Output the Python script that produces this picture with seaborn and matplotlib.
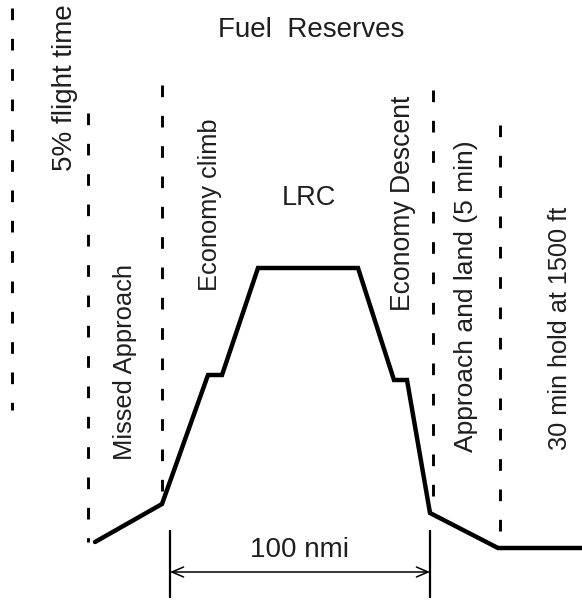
import pandas as pd
import matplotlib.pyplot as plt
import seaborn as sns

# Profile of the reserve flight (diagram pixel units, y downward)
profile_x = [95, 162, 208, 222, 258, 358, 394, 407, 430, 498, 582]
profile_y = [542, 504, 375, 375, 268, 268, 380, 380, 513, 548, 548]

# Phase boundaries (dashed)
boundary_x = [12, 88, 162, 433, 500]
boundary_top = [8, 113, 85, 90, 125]
boundary_bottom = [410, 542, 504, 512, 548]

# Phase labels (vertical)
phase_labels = ["5% flight time", "Missed Approach", "Economy climb",
                "Economy Descent", "Approach and land (5 min)",
                "30 min hold at 1500 ft"]
phase_label_x = [65, 125, 210, 403, 466, 560]
phase_label_y = [88, 362, 205, 203, 296, 328]
phase_label_size = [20, 18.4, 18.3, 19.1, 19, 18.2]

# Dimension: cruise distance
dim_x = [170, 430]
dim_label = "100 nmi"


def main():
    sns.set_theme(style="white")
    plt.rcParams["font.family"] = ["Liberation Sans", "DejaVu Sans"]

    fig = plt.figure(figsize=(5.82, 6.0), dpi=100)
    ax = fig.add_axes([0, 0, 1, 1])
    ax.set_xlim(0, 582)
    ax.set_ylim(600, 0)
    ax.axis("off")

    df = pd.DataFrame({"x": profile_x, "y": profile_y})
    sns.lineplot(data=df, x="x", y="y", sort=False, color="black",
                 linewidth=3.2, ax=ax, estimator=None)
    ax.lines[-1].set_solid_joinstyle("miter")

    ax.vlines(boundary_x, boundary_top, boundary_bottom, colors="black",
              linewidth=2.1, linestyles=(0, (4, 6.4)))

    txt = "#1e1e1e"
    for label, x, y, fs in zip(phase_labels, phase_label_x, phase_label_y,
                               phase_label_size):
        ax.text(x, y, label, rotation=90, ha="center", va="center",
                fontsize=fs, color=txt)

    ax.text(311, 30, "Fuel  Reserves", ha="center", va="center",
            fontsize=20, color=txt)
    ax.text(309, 198, "LRC", ha="center", va="center", fontsize=19.5,
            color=txt)

    # dimension markers
    ax.vlines(dim_x, 530, 598, colors="black", linewidth=1.6)
    ax.annotate("", xy=(dim_x[0], 572), xytext=(dim_x[1], 572),
                arrowprops=dict(arrowstyle="<->,head_length=0.7,head_width=0.3",
                                color="black", lw=1.1,
                                shrinkA=0, shrinkB=0))
    ax.text(sum(dim_x) / 2, 550, dim_label, ha="center", va="center",
            fontsize=20, color=txt)

    fig.savefig("out.png", dpi=100)
    plt.close(fig)


if __name__ == "__main__":
    main()
